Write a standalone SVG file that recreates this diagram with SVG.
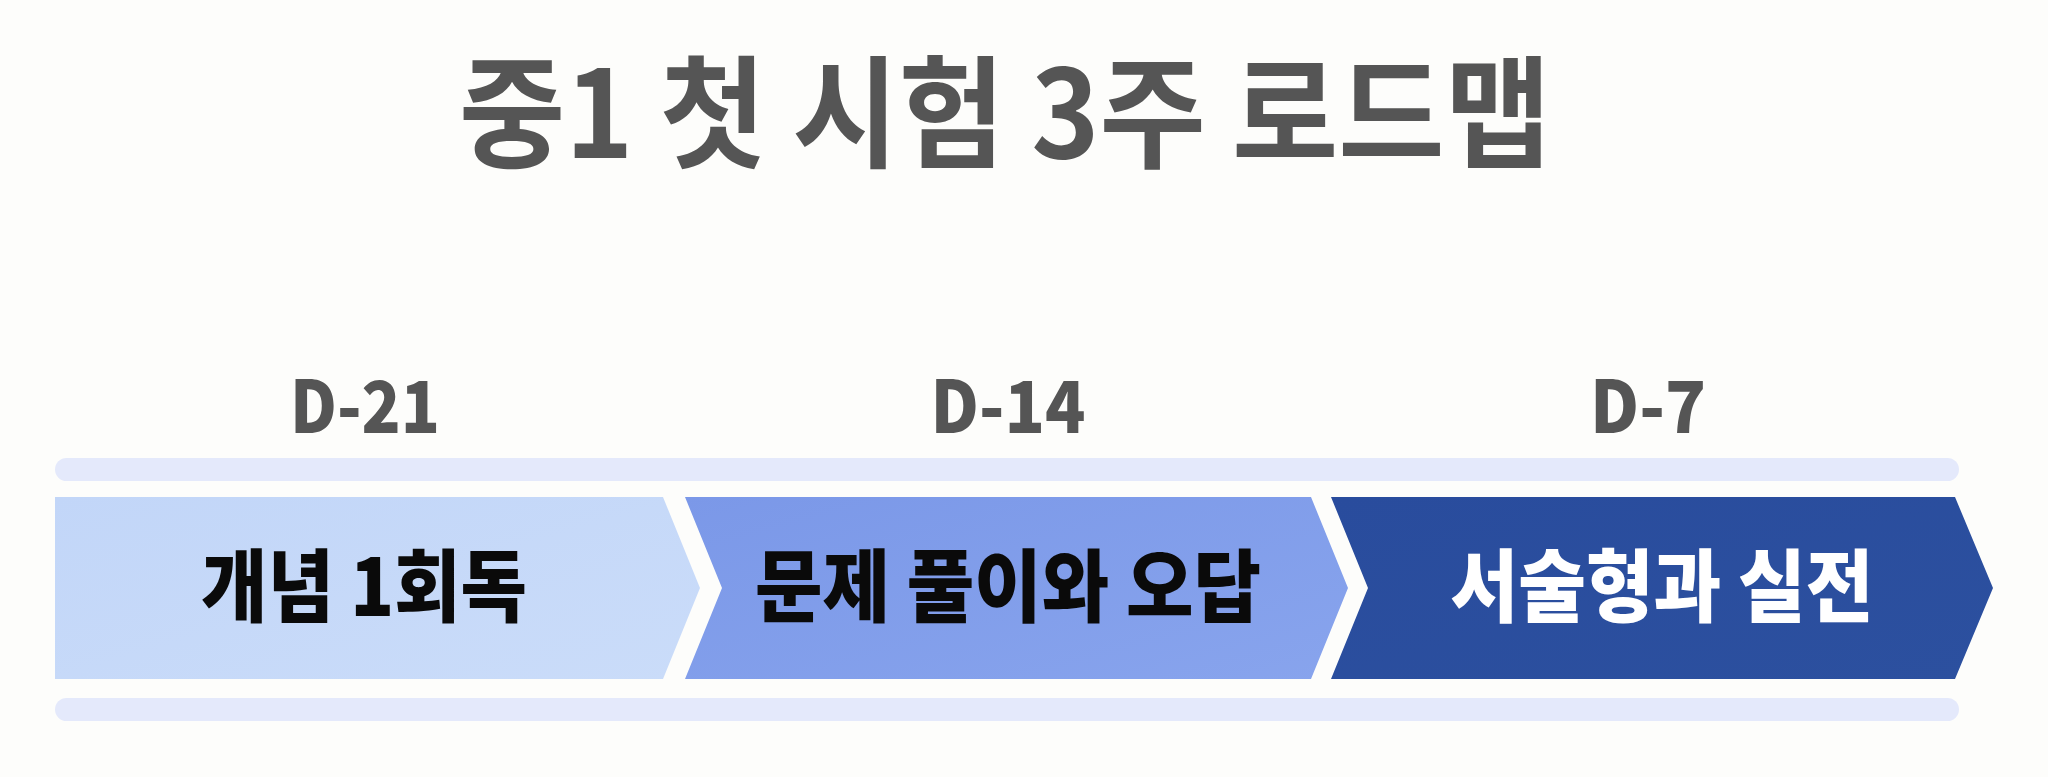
<svg xmlns="http://www.w3.org/2000/svg" width="2048" height="777" viewBox="0 0 2048 777">
  <defs>
    <linearGradient id="g1" x1="0" y1="0" x2="1" y2="1">
      <stop offset="0" stop-color="#c2d6f8"/>
      <stop offset="1" stop-color="#cadcf9"/>
    </linearGradient>
    <linearGradient id="g2" x1="0" y1="0" x2="1" y2="1">
      <stop offset="0" stop-color="#7b98e8"/>
      <stop offset="1" stop-color="#88a4ed"/>
    </linearGradient>
    <linearGradient id="g3" x1="0" y1="0" x2="1" y2="1">
      <stop offset="0" stop-color="#294c9d"/>
      <stop offset="1" stop-color="#2c509f"/>
    </linearGradient>
    <style>
      .bar { fill: #e4e9fb; }
      .title { font-family: "Noto Sans CJK KR", "Noto Sans", sans-serif; font-weight: 700; font-size: 122px; fill: #555555; }
      .day { font-family: "Noto Sans CJK KR", "Noto Sans", sans-serif; font-weight: 900; font-size: 72px; fill: #555555; }
      .lbl { font-family: "Noto Sans CJK KR", "Noto Sans", sans-serif; font-weight: 900; font-size: 79px; fill: #0a0a0a; }
      .lbl.w { fill: #ffffff; }
    </style>
  </defs>
  <rect x="0" y="0" width="2048" height="777" fill="#fdfdfb"/>

  <g id="title">
    <text class="title" x="1005" y="158" text-anchor="middle" textLength="1092" lengthAdjust="spacingAndGlyphs">중1 첫 시험 3주 로드맵</text>
  </g>

  <g id="day-labels">
    <text class="day" x="365" y="433" text-anchor="middle" textLength="150" lengthAdjust="spacingAndGlyphs">D-21</text>
    <text class="day" x="1008" y="433" text-anchor="middle" textLength="155" lengthAdjust="spacingAndGlyphs">D-14</text>
    <text class="day" x="1648" y="433" text-anchor="middle" textLength="116" lengthAdjust="spacingAndGlyphs">D-7</text>
  </g>

  <g id="rails">
    <rect class="bar" x="55" y="458" width="1904" height="23" rx="11.5"/>
    <rect class="bar" x="55" y="698" width="1904" height="23" rx="11.5"/>
  </g>

  <g id="step1">
    <path d="M55,497 L663,497 L700,588 L663,679 L55,679 Z" fill="url(#g1)"/>
    <text class="lbl" x="364" y="616" text-anchor="middle" textLength="326" lengthAdjust="spacingAndGlyphs">개념 1회독</text>
  </g>

  <g id="step2">
    <path d="M685,497 L1311,497 L1348,588 L1311,679 L685,679 L722,588 Z" fill="url(#g2)"/>
    <text class="lbl" x="1008" y="616" text-anchor="middle" textLength="506" lengthAdjust="spacingAndGlyphs">문제 풀이와 오답</text>
  </g>

  <g id="step3">
    <path d="M1331,497 L1955,497 L1993,588 L1955,679 L1331,679 L1368,588 Z" fill="url(#g3)"/>
    <text class="lbl w" x="1662" y="616" text-anchor="middle" textLength="423" lengthAdjust="spacingAndGlyphs">서술형과 실전</text>
  </g>

  <g id="connectors"></g>
</svg>
